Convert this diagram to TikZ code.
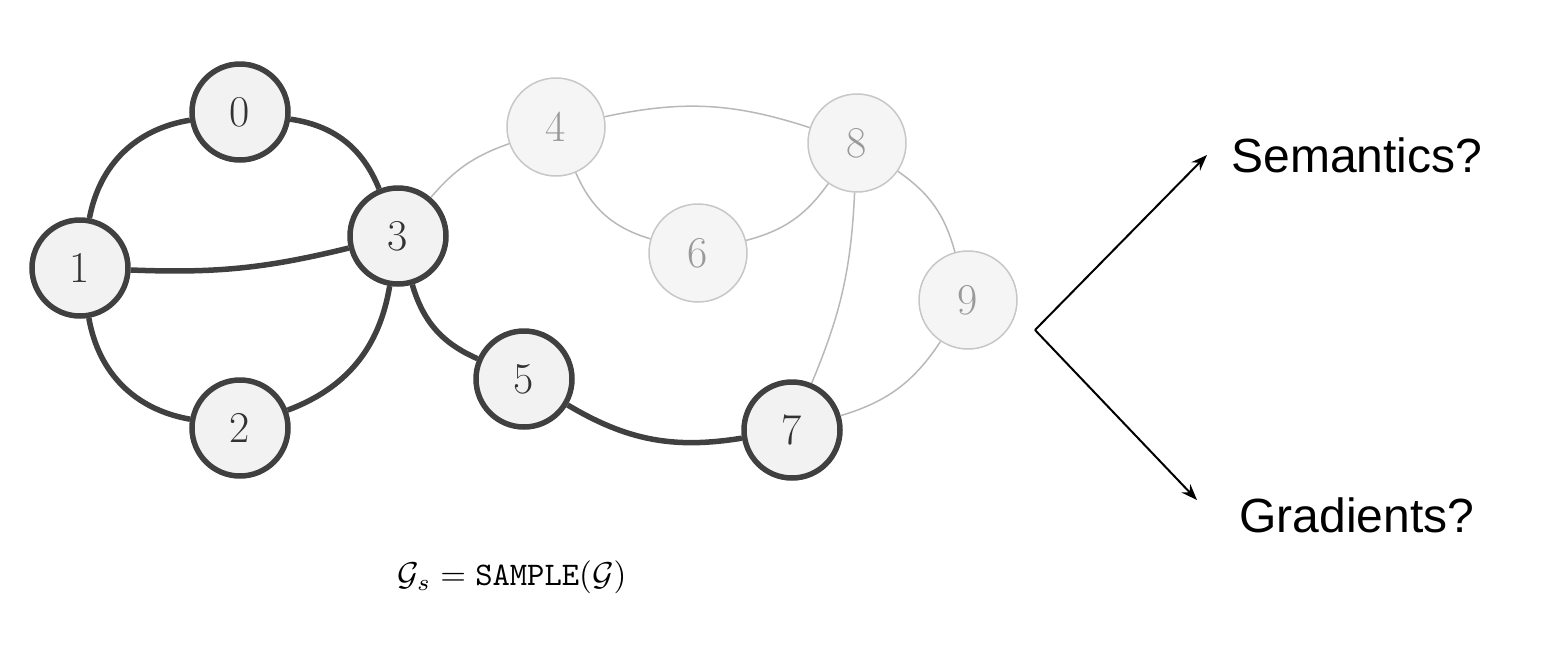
\documentclass[tikz,border=0pt]{standalone}
\usepackage{fontspec}
\usetikzlibrary{arrows.meta}
\newfontfamily\arialf{Liberation Sans}
\begin{document}
\begin{tikzpicture}[x=1pt,y=-1pt,
  dk/.style={circle,draw=black!75,line width=5.5pt,fill=black!5,minimum size=96pt,inner sep=0pt,font=\fontsize{44}{44}\selectfont,text=black!80},
  lt/.style={circle,draw=black!22,line width=1.5pt,fill=black!4,minimum size=98pt,inner sep=0pt,font=\fontsize{44}{44}\selectfont,text=black!40},
  de/.style={draw=black!75,line width=5.5pt},
  le/.style={draw=black!28,line width=1.5pt},
  ar/.style={draw=black,line width=2pt,-{Stealth[length=16pt,width=12pt]}}]
\useasboundingbox (0,0) rectangle (1564,662);
\node[lt] (n4) at (556,127) {4};
\node[lt] (n8) at (857,143) {8};
\node[lt] (n6) at (698,253) {6};
\node[lt] (n9) at (968,300) {9};
\node[dk] (n0) at (240,112) {0};
\node[dk] (n1) at (80,268) {1};
\node[dk] (n2) at (240,428) {2};
\node[dk] (n3) at (398,236) {3};
\node[dk] (n5) at (524,379) {5};
\node[dk] (n7) at (792,430) {7};
\path[le] (n3) to[bend left=15] (n4);
\path[le] (n4) to[bend left=15] (n8);
\path[le] (n4) to[bend right=25] (n6);
\path[le] (n6) to[bend right=20] (n8);
\path[le] (n8) to[bend left=20] (n9);
\path[le] (n8) to[bend left=10] (n7);
\path[le] (n9) to[bend left=20] (n7);
\path[de] (n1) to[bend left=35] (n0);
\path[de] (n0) to[bend left=30] (n3);
\path[de] (n1) to[bend right=8] (n3);
\path[de] (n1) to[bend right=35] (n2);
\path[de] (n2) to[bend right=30] (n3);
\path[de] (n3) to[bend right=25] (n5);
\path[de] (n5) to[bend right=20] (n7);
\node (f) at (512,577) {\scalebox{3.3}{$\mathcal{G}_s = \texttt{SAMPLE}(\mathcal{G})$}};
\coordinate (o) at (1035,330);
\node[font=\arialf\fontsize{48}{48}\selectfont,anchor=west] (s) at (1228,155) {Semantics?};
\node[font=\arialf\fontsize{48}{48}\selectfont,anchor=west] (g) at (1236,515) {Gradients?};
\draw[ar] (o) -- (1207,155);
\draw[ar] (o) -- (1197,500);
\end{tikzpicture}
\end{document}
